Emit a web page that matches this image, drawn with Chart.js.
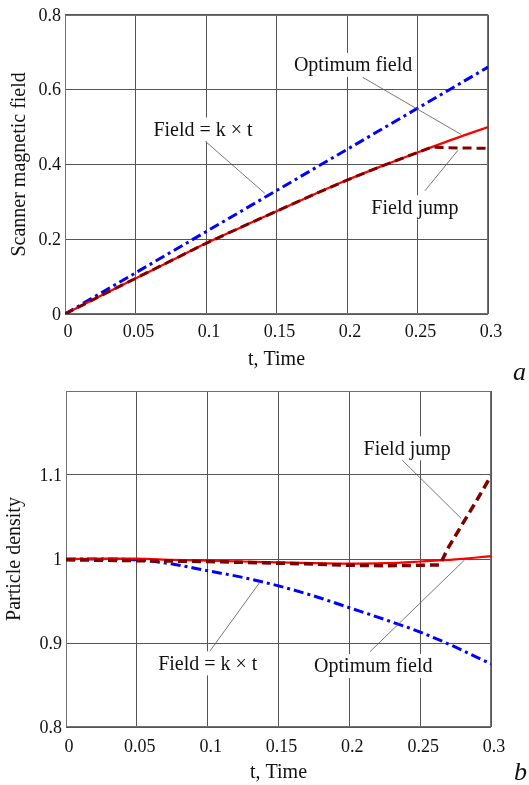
<!DOCTYPE html>
<html>
<head>
<meta charset="utf-8">
<script src="https://cdn.jsdelivr.net/npm/chart.js@4.4.1/dist/chart.umd.min.js"></script>
<style>
  html, body { margin: 0; padding: 0; background: #ffffff; }
  body { width: 529px; height: 785px; position: relative; overflow: hidden; }
  canvas { position: absolute; left: 0; }
  #c1 { top: 0; }
  #c2 { top: 372px; }
  .tag { position: absolute; font-family: "Liberation Serif", serif; font-style: italic; font-size: 26px; color: #111; }
</style>
</head>
<body>
<canvas id="c1" width="529" height="372"></canvas>
<canvas id="c2" width="529" height="413"></canvas>
<div class="tag" style="left:513px; top:357px;">a</div>
<div class="tag" style="left:514px; top:757px;">b</div>
<script>
// ---------- data: panel a ----------
const tTop = [0, 0.025, 0.05, 0.075, 0.1, 0.125, 0.15, 0.175, 0.2, 0.225, 0.25, 0.275, 0.3];
const fieldKtTop = [0, 0.055, 0.11, 0.165, 0.22, 0.275, 0.33, 0.385, 0.44, 0.495, 0.55, 0.605, 0.66];
const optimumTop = [0, 0.048, 0.095, 0.142, 0.189, 0.232, 0.275, 0.317, 0.358, 0.396, 0.432, 0.467, 0.500];
const tJumpTop = [0, 0.025, 0.05, 0.075, 0.1, 0.125, 0.15, 0.175, 0.2, 0.225, 0.25, 0.26, 0.267, 0.28, 0.3];
const jumpTop = [0, 0.048, 0.095, 0.142, 0.189, 0.232, 0.275, 0.317, 0.358, 0.396, 0.432, 0.446, 0.445, 0.444, 0.443];
const yTicksTop = [0, 0.2, 0.4, 0.6, 0.8];

// ---------- data: panel b ----------
const tBot = [0, 0.025, 0.05, 0.075, 0.1, 0.125, 0.15, 0.175, 0.2, 0.225, 0.25, 0.275, 0.3];
const fieldKtBot = [1.0, 1.0, 0.999, 0.994, 0.986, 0.978, 0.968, 0.956, 0.942, 0.928, 0.913, 0.895, 0.875];
const optimumBot = [1.0, 1.0005, 1.0004, 0.999, 0.998, 0.997, 0.996, 0.995, 0.9945, 0.995, 0.997, 0.9995, 1.0035];
const tJumpBot = [0, 0.025, 0.05, 0.075, 0.1, 0.125, 0.15, 0.175, 0.2, 0.225, 0.25, 0.2635, 0.265, 0.27, 0.28, 0.29, 0.3];
const jumpBot = [0.999, 0.9985, 0.998, 0.9975, 0.997, 0.996, 0.995, 0.994, 0.9925, 0.992, 0.9925, 0.993, 0.997, 1.014, 1.042, 1.07, 1.099];
const yTicksBot = [0.8, 0.9, 1.0, 1.1];
const xTicks = [0, 0.05, 0.1, 0.15, 0.2, 0.25, 0.3];

// ---------- annotation texts (positions in data units) ----------
const notesTop = [
  { text: 'Optimum field', x: 0.2043, y: 0.666, line: [0.2113, 0.6325, 0.2809, 0.480] },
  { text: 'Field = k \u00d7 t', x: 0.0979, y: 0.4935, line: [0.0993, 0.4625, 0.1418, 0.3224] },
  { text: 'Field jump', x: 0.2482, y: 0.2852, line: [0.2553, 0.3296, 0.2787, 0.4377] }
];
const notesBot = [
  { text: 'Field jump', x: 0.2408, y: 1.1318, line: [0.2372, 1.1179, 0.2789, 1.0484] },
  { text: 'Field = k \u00d7 t', x: 0.1001, y: 0.8758, line: [0.1013, 0.8897, 0.1371, 0.973] },
  { text: 'Optimum field', x: 0.2169, y: 0.8726, line: [0.2146, 0.8897, 0.2813, 0.9988] }
];

const FONT = '"Liberation Serif", "Times New Roman", serif';
const pts = (xs, ys) => xs.map((x, i) => ({ x: x, y: ys[i] }));
const fmt = v => String(Number(Number(v).toFixed(3)));

const framePlugin = {
  id: 'frame',
  beforeDatasetsDraw(chart) {
    const a = chart.chartArea, ctx = chart.ctx;
    ctx.save();
    ctx.strokeStyle = '#707070';
    ctx.lineWidth = 1;
    ctx.strokeRect(Math.round(a.left) + 0.5, Math.round(a.top) + 0.5,
                   Math.round(a.right - a.left) - 1, Math.round(a.bottom - a.top) - 1);
    ctx.restore();
  }
};

const notesPlugin = {
  id: 'notes',
  afterDatasetsDraw(chart, args, opts) {
    const ctx = chart.ctx, xs = chart.scales.x, ys = chart.scales.y;
    ctx.save();
    ctx.font = '20px ' + FONT;
    ctx.textAlign = 'center';
    ctx.textBaseline = 'middle';
    (opts.items || []).forEach(n => {
      ctx.strokeStyle = '#555';
      ctx.lineWidth = 0.8;
      ctx.beginPath();
      ctx.moveTo(xs.getPixelForValue(n.line[0]), ys.getPixelForValue(n.line[1]));
      ctx.lineTo(xs.getPixelForValue(n.line[2]), ys.getPixelForValue(n.line[3]));
      ctx.stroke();
    });
    (opts.items || []).forEach(n => {
      const px = xs.getPixelForValue(n.x), py = ys.getPixelForValue(n.y);
      const w = ctx.measureText(n.text).width;
      ctx.fillStyle = '#ffffff';
      ctx.fillRect(px - w / 2 - 2, py - 12, w + 4, 24);
      ctx.fillStyle = '#111';
      ctx.fillText(n.text, px, py + 1);
    });
    ctx.restore();
  }
};

function makeChart(id, cfg) {
  return new Chart(document.getElementById(id), {
    type: 'line',
    data: {
      datasets: [
        { label: 'Field jump', data: pts(cfg.tJump, cfg.jump), borderColor: '#800000', borderWidth: cfg.jumpWidth,
          borderDash: [9, 5], tension: 0, pointRadius: 0, fill: false },
        { label: 'Optimum field', data: pts(cfg.t, cfg.opt), borderColor: '#ff0000', borderWidth: 2.2,
          cubicInterpolationMode: 'monotone', pointRadius: 0, fill: false },
        { label: 'Field = k x t', data: pts(cfg.t, cfg.kt), borderColor: '#0000ff', borderWidth: 3,
          borderDash: [10, 4, 3, 4], cubicInterpolationMode: 'monotone', pointRadius: 0, fill: false }
      ]
    },
    options: {
      responsive: false,
      animation: false,
      devicePixelRatio: 1,
      layout: { padding: cfg.padding },
      plugins: { legend: { display: false }, tooltip: { enabled: false }, notes: { items: cfg.notes } },
      scales: {
        x: {
          type: 'linear', min: 0, max: 0.3,
          afterBuildTicks: s => { s.ticks = xTicks.map(v => ({ value: v })); },
          afterFit: s => { s.height = cfg.xHeight; },
          grid: { color: '#555', lineWidth: 1, drawTicks: false },
          border: { display: false },
          ticks: { color: '#111', font: { family: FONT, size: 18 }, padding: cfg.xPad, labelOffset: 3,
                   maxRotation: 0, autoSkip: false, callback: v => fmt(v) },
          title: { display: true, text: 't, Time', color: '#111', font: { family: FONT, size: 20 },
                   padding: { top: 0, bottom: cfg.xTitlePad } }
        },
        y: {
          type: 'linear', min: cfg.yMin, max: cfg.yMax,
          afterBuildTicks: s => { s.ticks = cfg.yGrid.map(v => ({ value: v })); },
          afterFit: s => { s.width = cfg.yWidth; },
          grid: { color: '#555', lineWidth: 1, drawTicks: false },
          border: { display: false },
          ticks: { color: '#111', font: { family: FONT, size: 18 }, padding: 4, labelOffset: 1,
                   autoSkip: false, callback: v => (cfg.yTicks.some(t => Math.abs(t - v) < 1e-9) ? fmt(v) : '') },
          title: { display: true, text: cfg.yTitle, color: '#111', font: { family: FONT, size: 20 },
                   padding: { top: cfg.yTitlePad, bottom: 0 } }
        }
      }
    },
    plugins: [framePlugin, notesPlugin]
  });
}

makeChart('c1', {
  t: tTop, kt: fieldKtTop, opt: optimumTop, tJump: tJumpTop, jump: jumpTop, jumpWidth: 3,
  yMin: 0, yMax: 0.8, yGrid: yTicksTop, yTicks: yTicksTop,
  yTitle: 'Scanner magnetic field', notes: notesTop,
  padding: { top: 13, right: 41, left: 0, bottom: 0 },
  xHeight: 58, yWidth: 65, xPad: 7, xTitlePad: 0, yTitlePad: 8
});

makeChart('c2', {
  t: tBot, kt: fieldKtBot, opt: optimumBot, tJump: tJumpBot, jump: jumpBot, jumpWidth: 3.5,
  yMin: 0.8, yMax: 1.2, yGrid: [0.8, 0.9, 1.0, 1.1, 1.2], yTicks: yTicksBot,
  yTitle: 'Particle density', notes: notesBot,
  padding: { top: 19, right: 38, left: 0, bottom: 0 },
  xHeight: 58, yWidth: 66, xPad: 9, xTitlePad: 0, yTitlePad: 3
});
</script>
</body>
</html>
